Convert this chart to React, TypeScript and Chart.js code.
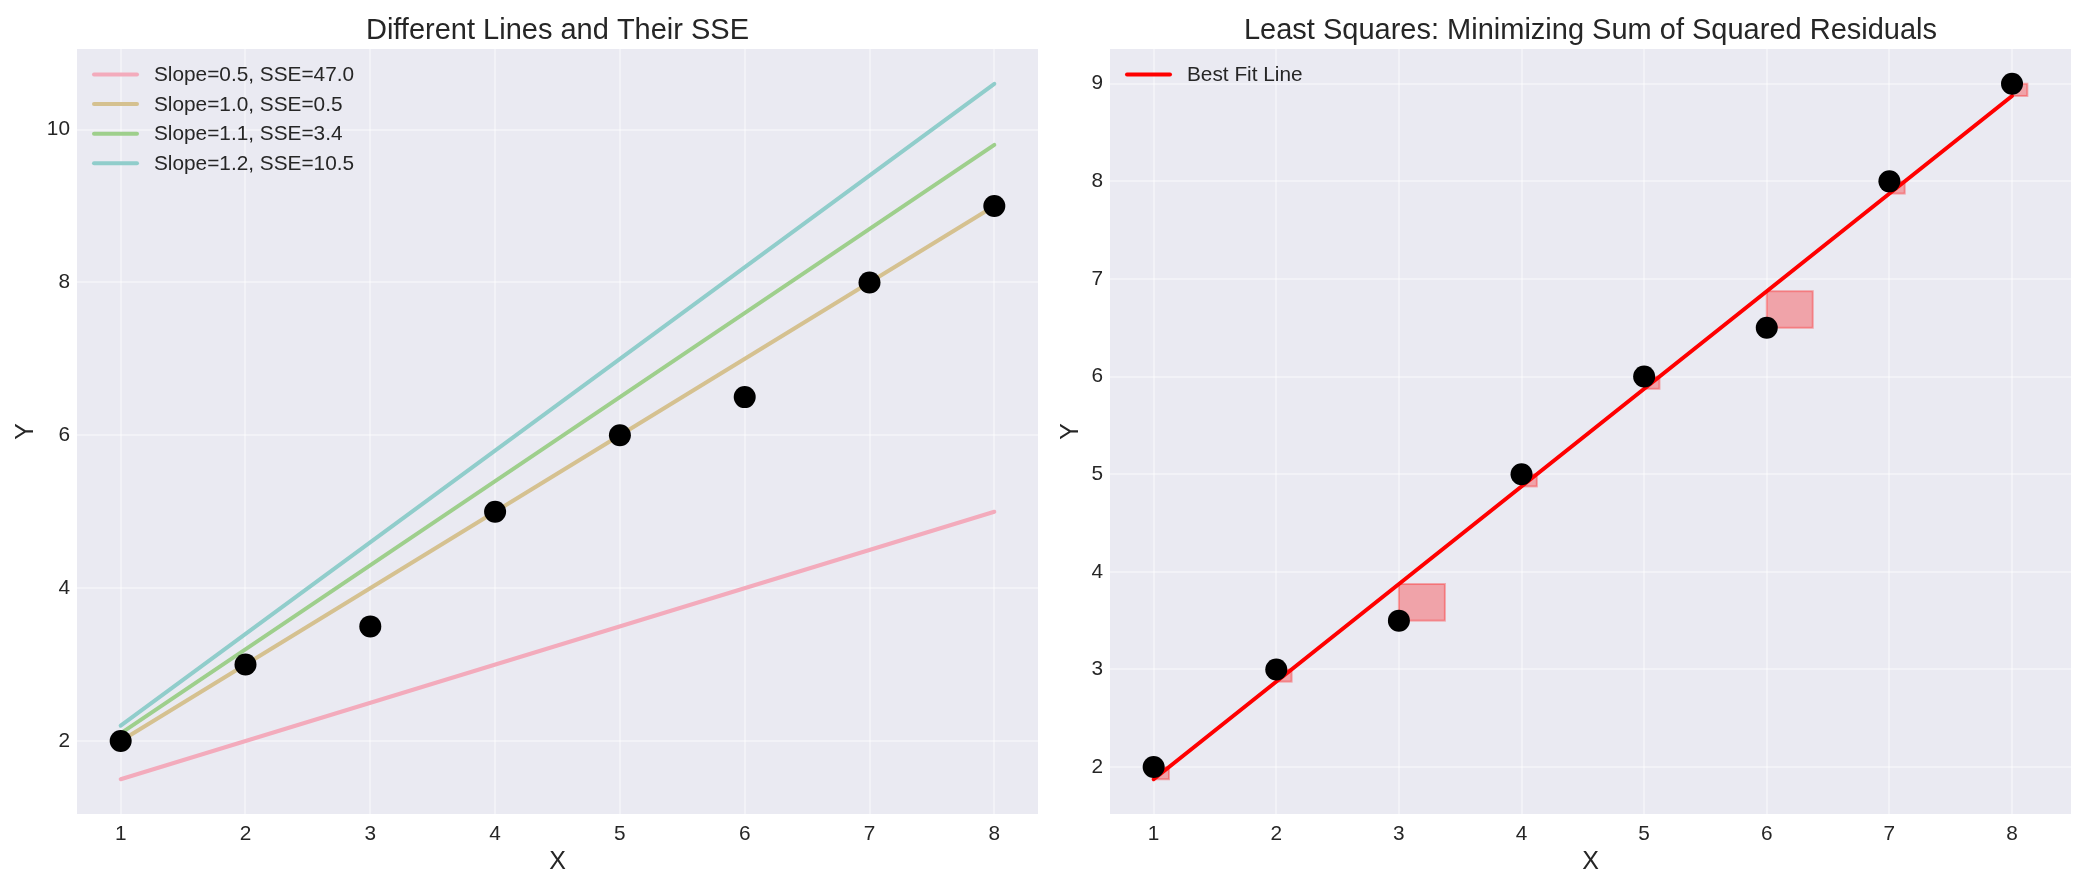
import React, { useEffect, useRef } from 'react';
import { Chart, registerables } from 'chart.js';

Chart.register(...registerables);

// ---- data ----
const xValues = [1, 2, 3, 4, 5, 6, 7, 8];
const yValues = [2, 3, 3.5, 5, 6, 6.5, 8, 9];

const lineEndX = [1, 8];
const slopeLabels = ['Slope=0.5, SSE=47.0', 'Slope=1.0, SSE=0.5', 'Slope=1.1, SSE=3.4', 'Slope=1.2, SSE=10.5'];
const slopeLine05 = [1.5, 5.0];
const slopeLine10 = [2.0, 9.0];
const slopeLine11 = [2.1, 9.8];
const slopeLine12 = [2.2, 10.6];
const slopeColors = ['#f3abbc', '#d5c190', '#9ecf8c', '#90cdcb'];

const bestFitLabel = 'Best Fit Line';
const bestFitLineY = [1.875, 8.875];
const fittedAtX = [1.875, 2.875, 3.875, 4.875, 5.875, 6.875, 7.875, 8.875];

const xTicks = [1, 2, 3, 4, 5, 6, 7, 8];
const leftYTicks = [2, 4, 6, 8, 10];
const rightYTicks = [2, 3, 4, 5, 6, 7, 8, 9];

const leftTitle = 'Different Lines and Their SSE';
const rightTitle = 'Least Squares: Minimizing Sum of Squared Residuals';
const xAxisLabel = 'X';
const yAxisLabel = 'Y';

// ---- styling ----
const FONT = '"Liberation Sans", Arial, Helvetica, sans-serif';
const TEXT = '#262626';
const BG = '#eaeaf2';
const GRID = 'rgba(255,255,255,0.4)';

type LegendItem = { label: string; color: string };

function decorPlugin(cfg: {
  title: string;
  legend: LegendItem[];
  squares: boolean;
  yLabelX: number;
}) {
  return {
    id: 'decor',
    beforeDraw(chart: any) {
      const { ctx, chartArea: a } = chart;
      ctx.save();
      ctx.fillStyle = BG;
      ctx.fillRect(a.left, a.top, a.right - a.left, a.bottom - a.top);
      ctx.restore();
    },
    beforeDatasetsDraw(chart: any) {
      if (!cfg.squares) return;
      const { ctx } = chart;
      const xs = chart.scales.x;
      const ys = chart.scales.y;
      ctx.save();
      for (let i = 0; i < xValues.length; i++) {
        const side = Math.abs(yValues[i] - fittedAtX[i]);
        const y0 = Math.min(yValues[i], fittedAtX[i]);
        const px0 = xs.getPixelForValue(xValues[i]);
        const px1 = xs.getPixelForValue(xValues[i] + side);
        const py0 = ys.getPixelForValue(y0 + side);
        const py1 = ys.getPixelForValue(y0);
        ctx.fillStyle = 'rgba(255,0,0,0.3)';
        ctx.fillRect(px0, py0, px1 - px0, py1 - py0);
        ctx.strokeStyle = 'rgba(255,0,0,0.3)';
        ctx.lineWidth = 2;
        ctx.strokeRect(px0, py0, px1 - px0, py1 - py0);
      }
      ctx.restore();
    },
    afterDraw(chart: any) {
      const { ctx, chartArea: a } = chart;
      ctx.save();
      // legend
      ctx.font = `20.8px ${FONT}`;
      ctx.textBaseline = 'middle';
      ctx.textAlign = 'left';
      cfg.legend.forEach((it, i) => {
        const y = a.top + 25.5 + i * 29.6;
        const x0 = a.left + 17;
        ctx.strokeStyle = it.color;
        ctx.lineWidth = 4;
        ctx.lineCap = 'round';
        ctx.beginPath();
        ctx.moveTo(x0, y);
        ctx.lineTo(x0 + 43, y);
        ctx.stroke();
        ctx.fillStyle = TEXT;
        ctx.fillText(it.label, x0 + 60, y + 1);
      });
      // title
      ctx.fillStyle = TEXT;
      ctx.textAlign = 'center';
      ctx.textBaseline = 'alphabetic';
      ctx.font = `29px ${FONT}`;
      ctx.fillText(cfg.title, (a.left + a.right) / 2, a.top - 10);
      // x label
      ctx.font = `25px ${FONT}`;
      ctx.fillText(xAxisLabel, (a.left + a.right) / 2, 869);
      // y label
      ctx.translate(cfg.yLabelX, (a.top + a.bottom) / 2);
      ctx.rotate(-Math.PI / 2);
      ctx.fillText(yAxisLabel, 0, 0);
      ctx.restore();
    },
  };
}

function buildOptions(xmin: number, xmax: number, ymin: number, ymax: number, yTicks: number[], yWidth: number, padRight: number) {
  const tickFont = { family: FONT, size: 20.8 };
  return {
    responsive: false,
    animation: false as const,
    devicePixelRatio: 1,
    layout: { padding: { top: 49, right: padRight, left: 0, bottom: 0 } },
    plugins: { legend: { display: false }, tooltip: { enabled: false }, title: { display: false } },
    scales: {
      x: {
        type: 'linear' as const,
        min: xmin,
        max: xmax,
        afterBuildTicks: (s: any) => { s.ticks = xTicks.map((v) => ({ value: v })); },
        afterFit: (s: any) => { s.height = 73; },
        grid: { color: GRID, lineWidth: 2, drawTicks: false },
        border: { display: false },
        ticks: { color: TEXT, font: tickFont, padding: 8, maxRotation: 0, autoSkip: false },
      },
      y: {
        type: 'linear' as const,
        min: ymin,
        max: ymax,
        afterBuildTicks: (s: any) => { s.ticks = yTicks.map((v) => ({ value: v })); },
        afterFit: (s: any) => { s.width = yWidth; },
        grid: { color: GRID, lineWidth: 2, drawTicks: false },
        border: { display: false },
        ticks: { color: TEXT, font: tickFont, padding: 7, autoSkip: false },
      },
    },
  };
}

const pts = (xs: number[], ys: number[]) => xs.map((x, i) => ({ x, y: ys[i] }));

export default function App() {
  const leftRef = useRef<HTMLCanvasElement>(null);
  const rightRef = useRef<HTMLCanvasElement>(null);

  useEffect(() => {
    document.body.style.margin = '0';
    const scatterDs = {
      label: 'Data',
      data: pts(xValues, yValues),
      backgroundColor: '#000000',
      borderColor: '#000000',
      pointRadius: 11,
      pointHoverRadius: 11,
      borderWidth: 0,
      showLine: false,
    };
    const lineDs = (label: string, ys: number[], color: string) => ({
      label,
      data: pts(lineEndX, ys),
      showLine: true,
      borderColor: color,
      backgroundColor: color,
      borderWidth: 4,
      pointRadius: 0,
      borderCapStyle: 'round' as const,
      fill: false,
    });

    const left = new Chart(leftRef.current!, {
      type: 'scatter',
      data: {
        datasets: [
          scatterDs,
          lineDs(slopeLabels[0], slopeLine05, slopeColors[0]),
          lineDs(slopeLabels[1], slopeLine10, slopeColors[1]),
          lineDs(slopeLabels[2], slopeLine11, slopeColors[2]),
          lineDs(slopeLabels[3], slopeLine12, slopeColors[3]),
        ],
      },
      options: buildOptions(0.65, 8.35, 1.045, 11.055, leftYTicks, 77, 22) as any,
      plugins: [
        decorPlugin({
          title: leftTitle,
          legend: slopeLabels.map((l, i) => ({ label: l, color: slopeColors[i] })),
          squares: false,
          yLabelX: 33,
        }),
      ],
    });

    const right = new Chart(rightRef.current!, {
      type: 'scatter',
      data: {
        datasets: [
          { ...scatterDs },
          lineDs(bestFitLabel, bestFitLineY, '#ff0000'),
        ],
      },
      options: buildOptions(0.644, 8.481, 1.519, 9.356, rightYTicks, 50, 14) as any,
      plugins: [
        decorPlugin({
          title: rightTitle,
          legend: [{ label: bestFitLabel, color: '#ff0000' }],
          squares: true,
          yLabelX: 18,
        }),
      ],
    });

    return () => {
      left.destroy();
      right.destroy();
    };
  }, []);

  return (
    <div style={{ position: 'relative', width: 2085, height: 887, background: '#ffffff' }}>
      <canvas ref={leftRef} width={1060} height={887} style={{ position: 'absolute', left: 0, top: 0, width: 1060, height: 887 }} />
      <canvas ref={rightRef} width={1025} height={887} style={{ position: 'absolute', left: 1060, top: 0, width: 1025, height: 887 }} />
    </div>
  );
}
